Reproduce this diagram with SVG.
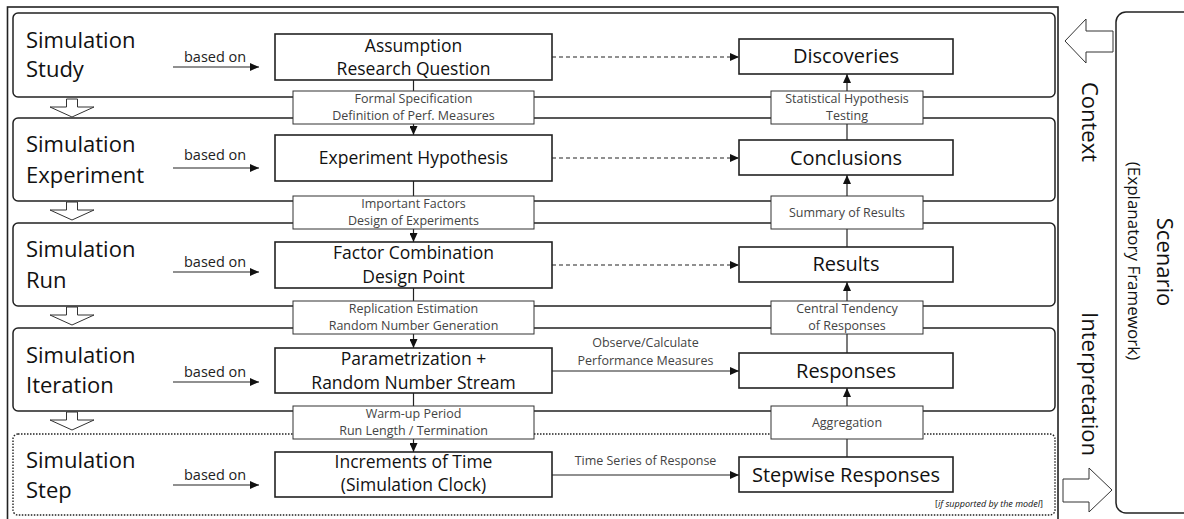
<svg xmlns="http://www.w3.org/2000/svg" width="1184" height="519" viewBox="0 0 1184 519">
<style>
text{font-family:"Open Sans","Noto Sans","Liberation Sans",sans-serif;fill:#111}
.layer{fill:none;stroke:#222;stroke-width:1.5}
.dotted{fill:none;stroke:#222;stroke-width:1.4;stroke-dasharray:1.5 1.5}
.box{fill:#fff;stroke:#222;stroke-width:1.6}
.lbox{fill:#fff;stroke:#333;stroke-width:1}
.hollow{fill:#fff;stroke:#333;stroke-width:1}
.ln{stroke:#222;stroke-width:1.2;fill:none}
.dash{stroke:#222;stroke-width:1.2;fill:none;stroke-dasharray:4 3}
.lt{font-size:22px}
.bt{font-size:17.5px;text-anchor:middle}
.rt{font-size:20px;text-anchor:middle}
.st{font-size:12.5px;text-anchor:middle;fill:#444}
.bo{font-size:14.5px;fill:#222}
</style>
<defs>
<marker id="ah" markerUnits="userSpaceOnUse" markerWidth="9" markerHeight="8" refX="9" refY="4" orient="auto">
<path d="M0,0 L9,4 L0,8 z" fill="#111"/>
</marker>
</defs>

<!-- outer frame -->
<rect x="7.5" y="7" width="1050.5" height="530" fill="none" stroke="#222" stroke-width="1.6"/>

<!-- layers -->
<g id="layer-study"><rect class="layer" x="13" y="13" width="1042" height="84" rx="5"/>
<text class="lt" x="26" y="48">Simulation</text><text class="lt" x="26" y="77">Study</text></g>
<g id="layer-experiment"><rect class="layer" x="13" y="118" width="1042" height="83" rx="5"/>
<text class="lt" x="26" y="152">Simulation</text><text class="lt" x="26" y="183">Experiment</text></g>
<g id="layer-run"><rect class="layer" x="13" y="223" width="1042" height="83" rx="5"/>
<text class="lt" x="26" y="257">Simulation</text><text class="lt" x="26" y="288">Run</text></g>
<g id="layer-iteration"><rect class="layer" x="13" y="328" width="1042" height="83" rx="5"/>
<text class="lt" x="26" y="363">Simulation</text><text class="lt" x="26" y="393">Iteration</text></g>
<g id="layer-step"><rect class="dotted" x="13" y="434" width="1042" height="81" rx="5"/>
<text class="lt" x="26" y="468">Simulation</text><text class="lt" x="26" y="498">Step</text>
<text x="1043" y="507" text-anchor="end" font-size="9" fill="#555">[<tspan font-style="italic">if supported by the model</tspan>]</text></g>

<!-- hollow down arrows -->
<g id="layer-arrows">
<polygon class="hollow" points="66.5,99 77.5,99 77.5,107 94,107 72,117 50,107 66.5,107"/>
<polygon class="hollow" points="66.5,202 77.5,202 77.5,210 94,210 72,220 50,210 66.5,210"/>
<polygon class="hollow" points="66.5,307 77.5,307 77.5,315 94,315 72,325 50,315 66.5,315"/>
<polygon class="hollow" points="66.5,412 77.5,412 77.5,420 94,420 72,430 50,420 66.5,420"/>
</g>

<!-- connectors -->
<g id="connectors">
<!-- based on -->
<line class="ln" x1="173" y1="67" x2="259" y2="67" marker-end="url(#ah)"/>
<line class="ln" x1="173" y1="168" x2="259" y2="168" marker-end="url(#ah)"/>
<line class="ln" x1="173" y1="272" x2="259" y2="272" marker-end="url(#ah)"/>
<line class="ln" x1="173" y1="382" x2="259" y2="382" marker-end="url(#ah)"/>
<line class="ln" x1="173" y1="485" x2="259" y2="485" marker-end="url(#ah)"/>
<text class="bo" x="184" y="62">based on</text>
<text class="bo" x="184" y="160">based on</text>
<text class="bo" x="184" y="267">based on</text>
<text class="bo" x="184" y="377">based on</text>
<text class="bo" x="184" y="480">based on</text>
<!-- horizontal -->
<line class="dash" x1="552" y1="57" x2="739" y2="57" marker-end="url(#ah)"/>
<line class="dash" x1="552" y1="158" x2="739" y2="158" marker-end="url(#ah)"/>
<line class="dash" x1="552" y1="265" x2="739" y2="265" marker-end="url(#ah)"/>
<line class="ln" x1="552" y1="371" x2="739" y2="371" marker-end="url(#ah)"/>
<line class="ln" x1="552" y1="475" x2="739" y2="475" marker-end="url(#ah)"/>
<text class="st" x="645.5" y="347">Observe/Calculate</text>
<text class="st" x="645.5" y="365">Performance Measures</text>
<text class="st" x="645.5" y="465">Time Series of Response</text>
<!-- left vertical -->
<line class="ln" x1="413.5" y1="80" x2="413.5" y2="91"/>
<line class="ln" x1="413.5" y1="124" x2="413.5" y2="135" marker-end="url(#ah)"/>
<line class="ln" x1="413.5" y1="181" x2="413.5" y2="196"/>
<line class="ln" x1="413.5" y1="229" x2="413.5" y2="242" marker-end="url(#ah)"/>
<line class="ln" x1="413.5" y1="288" x2="413.5" y2="301"/>
<line class="ln" x1="413.5" y1="334" x2="413.5" y2="348" marker-end="url(#ah)"/>
<line class="ln" x1="413.5" y1="393" x2="413.5" y2="406"/>
<line class="ln" x1="413.5" y1="439" x2="413.5" y2="452" marker-end="url(#ah)"/>
<!-- right vertical -->
<line class="ln" x1="847" y1="91" x2="847" y2="74" marker-end="url(#ah)"/>
<line class="ln" x1="847" y1="140" x2="847" y2="124"/>
<line class="ln" x1="847" y1="196" x2="847" y2="175" marker-end="url(#ah)"/>
<line class="ln" x1="847" y1="247" x2="847" y2="229"/>
<line class="ln" x1="847" y1="301" x2="847" y2="282" marker-end="url(#ah)"/>
<line class="ln" x1="847" y1="353" x2="847" y2="334"/>
<line class="ln" x1="847" y1="406" x2="847" y2="388" marker-end="url(#ah)"/>
<line class="ln" x1="847" y1="457" x2="847" y2="439"/>
</g>

<!-- left main boxes -->
<g id="assumption"><rect class="box" x="275" y="34" width="277" height="46"/>
<text class="bt" x="413.5" y="52">Assumption</text><text class="bt" x="413.5" y="75">Research Question</text></g>
<g id="hypothesis"><rect class="box" x="275" y="135" width="277" height="46"/>
<text class="bt" x="413.5" y="164">Experiment Hypothesis</text></g>
<g id="factor"><rect class="box" x="275" y="242" width="277" height="46"/>
<text class="bt" x="413.5" y="259">Factor Combination</text><text class="bt" x="413.5" y="283">Design Point</text></g>
<g id="param"><rect class="box" x="275" y="348" width="277" height="45"/>
<text class="bt" x="413.5" y="365">Parametrization +</text><text class="bt" x="413.5" y="389">Random Number Stream</text></g>
<g id="increments"><rect class="box" x="275" y="452" width="277" height="45"/>
<text class="bt" x="413.5" y="468">Increments of Time</text><text class="bt" x="413.5" y="491">(Simulation Clock)</text></g>

<!-- right boxes -->
<g id="discoveries"><rect class="box" x="739" y="39" width="214" height="35"/><text class="rt" x="846" y="63">Discoveries</text></g>
<g id="conclusions"><rect class="box" x="739" y="140" width="214" height="35"/><text class="rt" x="846" y="165">Conclusions</text></g>
<g id="results"><rect class="box" x="739" y="247" width="214" height="35"/><text class="rt" x="846" y="271">Results</text></g>
<g id="responses"><rect class="box" x="739" y="353" width="214" height="35"/><text class="rt" x="846" y="378">Responses</text></g>
<g id="stepwise"><rect class="box" x="739" y="457" width="214" height="35"/><text class="rt" x="846" y="482">Stepwise Responses</text></g>

<!-- label boxes -->
<g id="lbl-formal"><rect class="lbox" x="293" y="91" width="241" height="33"/>
<text class="st" x="413.5" y="103">Formal Specification</text><text class="st" x="413.5" y="120">Definition of Perf. Measures</text></g>
<g id="lbl-stat"><rect class="lbox" x="771" y="91" width="152" height="33"/>
<text class="st" x="847" y="103">Statistical Hypothesis</text><text class="st" x="847" y="120">Testing</text></g>
<g id="lbl-factors"><rect class="lbox" x="293" y="196" width="241" height="33"/>
<text class="st" x="413.5" y="208">Important Factors</text><text class="st" x="413.5" y="225">Design of Experiments</text></g>
<g id="lbl-summary"><rect class="lbox" x="771" y="196" width="152" height="33"/>
<text class="st" x="847" y="217">Summary of Results</text></g>
<g id="lbl-replication"><rect class="lbox" x="293" y="301" width="241" height="33"/>
<text class="st" x="413.5" y="313">Replication Estimation</text><text class="st" x="413.5" y="330">Random Number Generation</text></g>
<g id="lbl-central"><rect class="lbox" x="771" y="301" width="152" height="33"/>
<text class="st" x="847" y="313">Central Tendency</text><text class="st" x="847" y="330">of Responses</text></g>
<g id="lbl-warmup"><rect class="lbox" x="293" y="406" width="241" height="33"/>
<text class="st" x="413.5" y="418">Warm-up Period</text><text class="st" x="413.5" y="435">Run Length / Termination</text></g>
<g id="lbl-aggregation"><rect class="lbox" x="771" y="406" width="152" height="33"/>
<text class="st" x="847" y="427">Aggregation</text></g>

<!-- right side -->
<g id="context">
<polygon class="hollow" points="1065,41 1086,19 1086,31 1113,31 1113,52 1086,52 1086,63"/>
<text font-size="22" text-anchor="middle" transform="translate(1082,122) rotate(90)">Context</text>
</g>
<g id="interpretation">
<polygon class="hollow" points="1063,479 1089,479 1089,468 1112,490 1089,512 1089,502 1063,502"/>
<text font-size="22" text-anchor="middle" transform="translate(1082,384) rotate(90)">Interpretation</text>
</g>
<g id="scenario">
<rect x="1116" y="12" width="80" height="501" rx="10" fill="none" stroke="#222" stroke-width="1.5"/>
<text font-size="22" text-anchor="middle" transform="translate(1157,262) rotate(90)">Scenario</text>
<text font-size="17" text-anchor="middle" transform="translate(1128,261) rotate(90)">(Explanatory Framework)</text>
</g>
</svg>
